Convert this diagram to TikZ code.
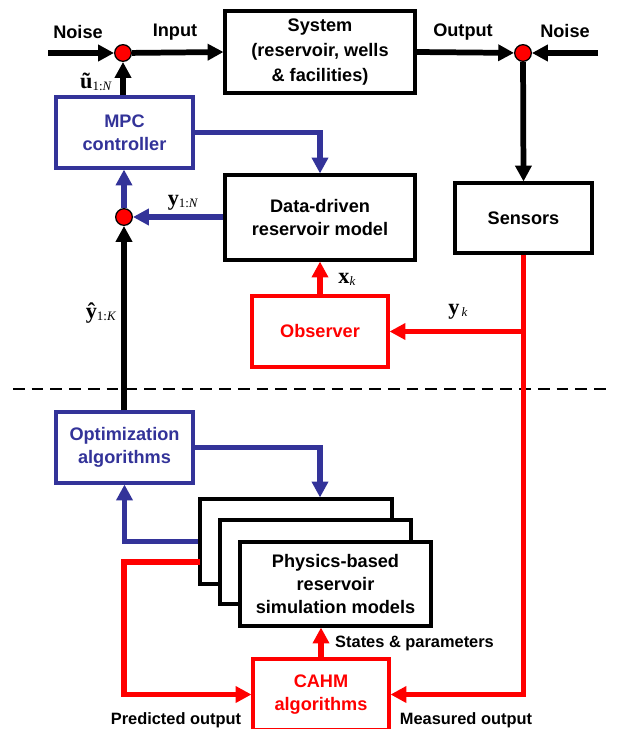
\documentclass[tikz,border=0pt]{standalone}
\usepackage{fontspec}
\setmainfont{Liberation Sans}
\newfontfamily\serifb{Liberation Serif}
\usetikzlibrary{arrows.meta,calc}
\definecolor{bl}{RGB}{51,51,153}
\definecolor{rd}{RGB}{255,0,0}
\newcommand\pxu{0.03cm}
\newcommand\mlab[2]{{\serifb\bfseries\fontsize{19}{19}\selectfont #1}\raisebox{-0.3ex}{\serifb\fontsize{11}{11}\selectfont #2}}
\tikzset{
  txt/.style={font=\fontsize{15.5}{19.5}\selectfont\bfseries, inner sep=0pt},
  stxt/.style={font=\fontsize{14}{16}\selectfont\bfseries, inner sep=0pt},
  box/.style={draw, fill=white, line width=2.6pt, inner sep=0pt, align=center, txt},
  bbox/.style={box, draw=bl, text=bl},
  rbox/.style={box, draw=rd, text=rd},
  sumc/.style={circle, fill=red, draw=black, line width=1.1pt, minimum size=14.2pt, inner sep=0pt},
  tip/.style={-{Triangle[length=13.5pt,width=13.5pt]}},
  ka/.style={line width=4.9pt, tip},
  ba/.style={line width=4.3pt, draw=bl, tip},
  ra/.style={line width=4.3pt, draw=rd, tip},
  rl0/.style={line width=4.3pt, draw=rd},
}
\begin{document}
\begin{tikzpicture}[x=0.03cm,y=-0.03cm]
\clip (0,0) rectangle (619,729);
\fill[white] (0,0) rectangle (619,729);
% dashed separator
\coordinate (dl) at (13,389);
\coordinate (dr) at (612,389);
\draw[line width=2.4pt, dash pattern=on 10pt off 6pt] (dl) -- (dr);
% boxes
\node[box, minimum width=190*\pxu, minimum height=82*\pxu, font=\fontsize{15.5}{21}\selectfont\bfseries] (sys) at (320,52) {System\\(reservoir, wells\\\& facilities)};
\node[bbox, minimum width=137*\pxu, minimum height=71*\pxu] (mpc) at (124.5,132.5) {MPC\\controller};
\node[box, minimum width=190*\pxu, minimum height=85*\pxu] (dd) at (320,217.5) {Data-driven\\reservoir model};
\node[box, minimum width=137*\pxu, minimum height=70*\pxu] (sen) at (523.5,218) {Sensors};
\node[rbox, minimum width=136*\pxu, minimum height=71*\pxu] (obs) at (320,331.5) {Observer};
\node[bbox, minimum width=137*\pxu, minimum height=71*\pxu] (opt) at (124.5,447.5) {Optimization\\algorithms};
\node[box, minimum width=192*\pxu, minimum height=85*\pxu] (back) at (296,541.5) {};
\node[box, minimum width=191*\pxu, minimum height=84*\pxu] (mid) at (315.5,562) {};
\node[box, minimum width=191*\pxu, minimum height=84*\pxu] (front) at (335.5,584) {Physics-based\\reservoir\\simulation models};
\node[rbox, minimum width=136*\pxu, minimum height=71*\pxu] (cahm) at (321,694.5) {CAHM\\algorithms};
% summing junctions
\node[sumc] (c1) at (123,53) {};
\node[sumc] (c2) at (523,53) {};
\node[sumc] (c3) at (124,217) {};
\coordinate (nl) at (48,53);
\coordinate (nr) at (598,53);
% labels
\node[txt] (lnl) at (78,32) {Noise};
\node[txt] (lin) at (175,32) {Input};
\node[txt] (lout) at (463,32) {Output};
\node[txt] (lnr) at (565,31) {Noise};
\node[inner sep=0pt] (lu) at (96,82) {\mlab{ũ}{1:\textit{N}}};
\node[inner sep=0pt] (ly) at (183,203) {\mlab{y}{1:\textit{N}}};
\node[inner sep=0pt] (lyh) at (101,313) {\mlab{ŷ}{1:\textit{K}}};
\node[inner sep=0pt] (lx) at (347,279) {\mlab{x}{\textit{k}}};
\node[inner sep=0pt] (lyk) at (458,312) {\mlab{y}{\,\textit{k}}};
\node[stxt, anchor=west] (lsp) at (335,643) {States \& parameters};
\node[stxt] (lpo) at (176,720) {Predicted output};
\node[stxt] (lmo) at (466,720) {Measured output};
% top loop (black)
\draw[ka] (nl) -- (c1);
\draw[ka] (c1) -- (sys.west);
\draw[ka] (c1 |- mpc.north) -- (c1);
\draw[ka] (sys.east) -- (c2);
\draw[ka] (nr) -- (c2);
\draw[ka] (c2) -- (sen.north);
\draw[ka] (c3 |- opt.north) -- (c3);
% blue
\draw[ba] (mpc.east) -| (dd.north);
\draw[ba] (dd.west |- c3) -- (c3);
\draw[ba] (c3) -- (c3 |- mpc.south);
\draw[ba] (opt.east) -| (dd.south |- back.north);
\draw[ba] (back.west) -| (opt.south);
% red
\draw[ra] (obs.north) -- (dd.south);
\draw[ra] (sen.south) |- (cahm.east);
\coordinate (br) at (sen.south |- obs.east);
\draw[ra] (br) -- (obs.east);
\coordinate (rp) at (200,562);
\coordinate (rc) at (124,620);
\draw[rl0] (rp) -| (rc);
\draw[ra] (rc) |- (cahm.west);
\draw[ra] (cahm.north) -- (cahm.north |- front.south);
\end{tikzpicture}
\end{document}
